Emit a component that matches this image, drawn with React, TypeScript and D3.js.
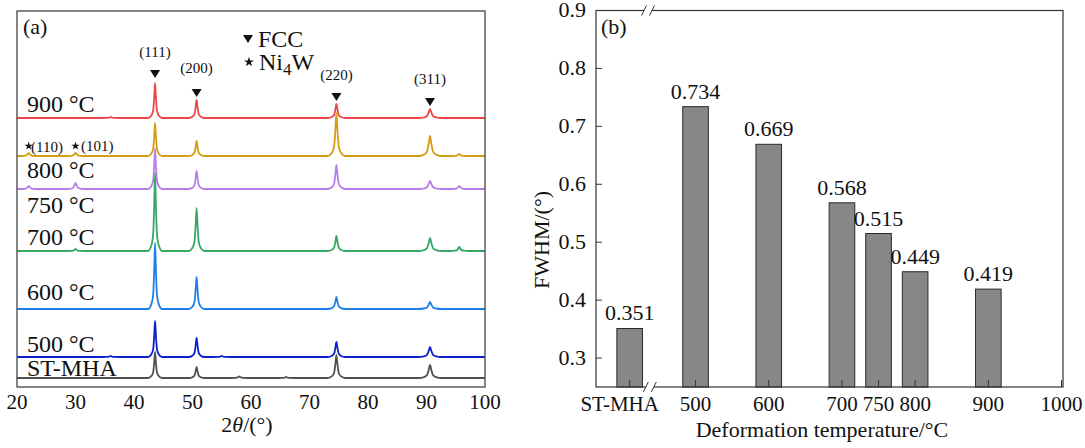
import React from 'react'
import * as d3 from 'd3'

const W = 1085, H = 448
const FONT = '"Liberation Serif", "Times New Roman", Times, serif'

// ---- (a) XRD patterns, bottom to top ----
const xrdLabels = ['ST-MHA', '500 °C', '600 °C', '700 °C', '750 °C', '800 °C', '900 °C']
const xrdColors = ['#505050', '#0b20cc', '#1f7ee8', '#36a864', '#b57fe6', '#d39d14', '#ef4549']
const xrdOffsets = [9, 30, 78, 136, 198, 231, 269]
const fccPeaks = [43.6, 50.7, 74.6, 90.6]
const fccHkl = ['(111)', '(200)', '(220)', '(311)']
const fccWidths = [0.8, 0.9, 1.0, 1.3]
// intensity of (111) (200) (220) (311) per pattern
const peakHeights = [
    [26, 11, 23, 13],
    [36, 19, 15, 10],
    [66, 32, 12, 7],
    [78, 43, 15, 13],
    [40, 18, 24, 8],
    [33, 15, 43, 20],
    [35, 18, 14, 9],
]
// small Ni4W / extra reflections [2theta, intensity]
const minorPeaks = [
    [[58, 1.5], [66, 1]],
    [[36, 1], [55, 1]],
    [],
    [[30, 2], [95.6, 4]],
    [[22, 3], [30, 6], [95.6, 3]],
    [[22, 3], [30, 3], [95.6, 2]],
    [[36, 1]],
]
const peakProfile = [[-1.5, 0], [-0.8, 0.07], [-0.4, 0.22], [-0.18, 0.6], [0, 1], [0.18, 0.6], [0.4, 0.22], [0.8, 0.07], [1.5, 0]]
const xrdTicks = [20, 30, 40, 50, 60, 70, 80, 90, 100]

// ---- (b) FWHM ----
const fwhmLabels = ['ST-MHA', '500', '600', '700', '750', '800', '900']
const fwhmTemps = [410, 500, 600, 700, 750, 800, 900]
const fwhmValues = [0.351, 0.734, 0.669, 0.568, 0.515, 0.449, 0.419]
const fwhmYTicks = [0.3, 0.4, 0.5, 0.6, 0.7, 0.8, 0.9]
const fwhmXTickLabels = ['ST-MHA', '500', '600', '700', '750', '800', '900', '1000']
const fwhmXTickPos = [410, 500, 600, 700, 750, 800, 900, 1000]

function patternPoints(i: number) {
    const peaks: number[][] = fccPeaks.map((p, k) => [p, peakHeights[i][k], fccWidths[k]])
    minorPeaks[i].forEach(m => peaks.push([m[0], m[1], 1]))
    peaks.sort((a, b) => a[0] - b[0])
    const pts: [number, number][] = [[20, 0]]
    peaks.forEach(([p, h, w]) => {
        peakProfile.forEach(([dx, r]) => pts.push([p + dx * w, r * h]))
    })
    pts.push([100, 0])
    return pts.map(([x, v]) => [x, v + xrdOffsets[i]] as [number, number])
}

export default function App() {
    // panel a
    const xa = d3.scaleLinear().domain([20, 100]).range([17, 485])
    const ya = d3.scaleLinear().domain([0, 376]).range([387, 11])
    const line = d3.line<[number, number]>().x(d => xa(d[0])).y(d => ya(d[1])).curve(d3.curveMonotoneX)
    const labelY = [376, 352, 300, 245, 213, 178, 112]
    const hklY = [57, 73, 80, 84]
    const triY = [74, 93, 97, 102]
    const tri = (cx: number, cy: number, s = 5) => `M${cx - s},${cy - s * 0.8}L${cx + s},${cy - s * 0.8}L${cx},${cy + s * 0.8}Z`
    const star = d3.symbol().type(d3.symbolStar)

    // panel b
    const xb = d3.scaleLinear().domain([364, 1002]).range([596, 1063])
    const yb = d3.scaleLinear().domain([0.25, 0.9]).range([387, 10.5])
    const bw = xb(427.5) - xb(392.5)
    const breakTop = xb(435), breakBot = xb(437.5)

    const breakMark = (x: number, y: number) => (
        <g>
            <rect x={x - 4} y={y - 2} width={8} height={4} fill="white" />
            <line x1={x - 6.5} y1={y + 5} x2={x - 1.5} y2={y - 5} stroke="#333" strokeWidth={1} />
            <line x1={x + 1.5} y1={y + 5} x2={x + 6.5} y2={y - 5} stroke="#333" strokeWidth={1} />
        </g>
    )

    return (
        <svg width={W} height={H} style={{ position: 'absolute', left: 0, top: 0, background: 'white' }} fontFamily={FONT}>
            {/* ---------- (a) ---------- */}
            <g>
                {xrdLabels.map((_, i) => i).reverse().map(i => (
                    <path key={i} d={line(patternPoints(i)) || ''} fill="none" stroke={xrdColors[i]} strokeWidth={1.8} strokeLinejoin="round" />
                ))}
                <rect x={17} y={11} width={468} height={376} fill="none" stroke="#444" strokeWidth={1.3} />
                {xrdTicks.map(t => (
                    <text key={t} x={xa(t)} y={409} fontSize={21} textAnchor="middle" fill="#111">{t}</text>
                ))}
                <text x={247} y={432} fontSize={22} textAnchor="middle" fill="#111">2<tspan fontStyle="italic">θ</tspan>/(°)</text>
                <text x={23} y={34} fontSize={22} fill="#111">(a)</text>
                {xrdLabels.map((l, i) => (
                    <text key={l} x={27} y={labelY[i]} fontSize={24} fill="#111">{l}</text>
                ))}
                {fccPeaks.map((p, k) => (
                    <g key={p}>
                        <text x={xa(p)} y={hklY[k]} fontSize={15} textAnchor="middle" fill="#111">{fccHkl[k]}</text>
                        <path d={tri(xa(p), triY[k])} fill="#111" />
                    </g>
                ))}
                <path d={star.size(22)() || ''} transform={`translate(${xa(22)},146)`} fill="#111" />
                <text x={31} y={152} fontSize={15} fill="#111">(110)</text>
                <path d={star.size(22)() || ''} transform={`translate(${xa(30)},146)`} fill="#111" />
                <text x={81} y={151} fontSize={15} fill="#111">(101)</text>
                {/* legend */}
                <path d={tri(248, 39)} fill="#111" />
                <text x={258} y={47} fontSize={24} fill="#111">FCC</text>
                <path d={star.size(30)() || ''} transform="translate(249,62)" fill="#111" />
                <text x={259} y={70} fontSize={24} fill="#111">Ni<tspan fontSize={17} dy={5}>4</tspan><tspan dy={-5}>W</tspan></text>
            </g>

            {/* ---------- (b) ---------- */}
            <g>
                {fwhmValues.map((v, i) => (
                    <g key={fwhmLabels[i]}>
                        <rect x={xb(fwhmTemps[i]) - bw / 2} y={yb(v)} width={bw} height={yb(0.25) - yb(v)} fill="#878787" stroke="#2a2a2a" strokeWidth={1} />
                        <text x={xb(fwhmTemps[i])} y={yb(v) - 8} fontSize={22} textAnchor="middle" fill="#111">{d3.format('.3f')(v)}</text>
                    </g>
                ))}
                <rect x={596} y={10.5} width={467} height={376.5} fill="none" stroke="#333" strokeWidth={1.2} />
                {fwhmYTicks.map(t => (
                    <g key={t}>
                        <line x1={596} x2={602} y1={yb(t)} y2={yb(t)} stroke="#333" strokeWidth={1} />
                        <text x={586} y={yb(t) + 6.5} fontSize={22} textAnchor="end" fill="#111">{d3.format('.1f')(t)}</text>
                    </g>
                ))}
                {fwhmXTickPos.map((t, i) => (
                    <g key={t}>
                        <line x1={xb(t)} x2={xb(t)} y1={387} y2={380} stroke="#333" strokeWidth={1} />
                        <text x={xb(t) + (i === 0 ? -10 : 0)} y={411} fontSize={21} textAnchor="middle" fill="#111">{fwhmXTickLabels[i]}</text>
                    </g>
                ))}
                {breakMark(breakTop, 10.5)}
                {breakMark(breakBot, 387)}
                <text x={601} y={34} fontSize={22} fill="#111">(b)</text>
                <text x={822} y={437} fontSize={22} textAnchor="middle" fill="#111">Deformation temperature/°C</text>
                <text transform="translate(549,240) rotate(-90)" fontSize={22} textAnchor="middle" fill="#111">FWHM/(°)</text>
            </g>
        </svg>
    )
}
